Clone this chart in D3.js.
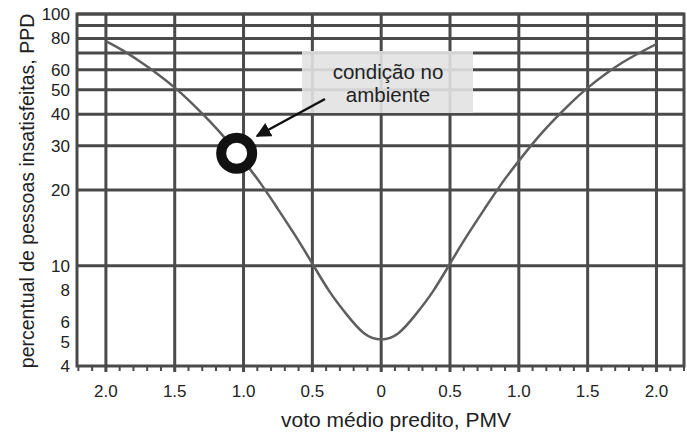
<!DOCTYPE html>
<html>
<head>
<meta charset="utf-8">
<script src="https://cdn.jsdelivr.net/npm/d3@7"></script>
<style>
  body { margin: 0; background: #fff; }
  text { font-family: "Liberation Sans", Arial, sans-serif; fill: #222; }
</style>
</head>
<body>
<svg id="chart" width="687" height="432"></svg>
<script>
// PMV vs PPD curve
const pmv = [-2.0, -1.875, -1.75, -1.625, -1.5, -1.375, -1.25, -1.125, -1.0, -0.875, -0.75, -0.625, -0.5, -0.375, -0.25, -0.125, 0,
             0.125, 0.25, 0.375, 0.5, 0.625, 0.75, 0.875, 1.0, 1.125, 1.25, 1.375, 1.5, 1.625, 1.75, 1.875, 2.0];
const ppd = [78, 71.5, 64.6, 57.8, 51, 44.2, 37.7, 31.7, 26.1, 21.2, 16.8, 13.2, 10.2, 7.9, 6.4, 5.4, 5.1,
             5.4, 6.4, 7.9, 10.2, 13.2, 16.8, 21.2, 26.1, 31.7, 37.7, 44.2, 50.9, 57.5, 64, 70, 76];

const xTicks = [-2, -1.5, -1, -0.5, 0, 0.5, 1, 1.5, 2];
const xTickLabels = ["2.0", "1.5", "1.0", "0.5", "0", "0.5", "1.0", "1.5", "2.0"];
const yGrid = [10, 20, 30, 40, 50, 60, 70, 80, 90, 100];
const yTickLabels = [4, 5, 6, 8, 10, 20, 30, 40, 50, 60, 80, 100];

const marker = { pmv: -1.05, ppd: 28 };
const noteLines = ["condição no", "ambiente"];

const svg = d3.select('#chart');
const plotL = 77, plotR = 684, plotT = 14, plotB = 366;

const x = d3.scaleLinear().domain([-2.21, 2.2]).range([plotL, plotR]);
const y = d3.scaleLog().domain([4, 100]).range([plotB, plotT]);

const gridColor = '#4a4a4a';

// minor ticks below the x axis every 0.1
const minor = d3.range(-22, 23).map(i => i / 10);
svg.append('g')
    .selectAll('line')
    .data(minor)
    .enter().append('line')
    .attr('x1', d => x(d)).attr('x2', d => x(d))
    .attr('y1', plotB).attr('y2', plotB + 5)
    .attr('stroke', gridColor)
    .attr('stroke-width', 2);

// horizontal grid
svg.append('g')
    .selectAll('line')
    .data(yGrid)
    .enter().append('line')
    .attr('x1', plotL).attr('x2', plotR)
    .attr('y1', d => y(d)).attr('y2', d => y(d))
    .attr('stroke', gridColor)
    .attr('stroke-width', 3);

// vertical grid
svg.append('g')
    .selectAll('line')
    .data(xTicks)
    .enter().append('line')
    .attr('x1', d => x(d)).attr('x2', d => x(d))
    .attr('y1', plotT).attr('y2', plotB + 6)
    .attr('stroke', gridColor)
    .attr('stroke-width', 3);

// frame
svg.append('rect')
    .attr('x', plotL).attr('y', plotT)
    .attr('width', plotR - plotL).attr('height', plotB - plotT)
    .attr('fill', 'none')
    .attr('stroke', gridColor)
    .attr('stroke-width', 3);

// annotation box
svg.append('rect')
    .attr('x', 302).attr('y', 51)
    .attr('width', 171).attr('height', 62)
    .attr('fill', '#e2e2e2')
    .attr('opacity', 0.9);

svg.append('g')
    .selectAll('text')
    .data(noteLines)
    .enter().append('text')
    .attr('x', 388)
    .attr('y', (d, i) => 79 + i * 23)
    .attr('text-anchor', 'middle')
    .style('font-size', '20.5px')
    .text(d => d);

// curve
const line = d3.line()
    .x((d, i) => x(pmv[i]))
    .y(d => y(d))
    .curve(d3.curveNatural);

svg.append('path')
    .datum(ppd)
    .attr('d', line)
    .attr('fill', 'none')
    .attr('stroke', '#5e5e5e')
    .attr('stroke-width', 2.5);

// arrow
svg.append('defs').append('marker')
    .attr('id', 'arrow')
    .attr('viewBox', '0 0 10 10')
    .attr('refX', 9).attr('refY', 5)
    .attr('markerWidth', 6).attr('markerHeight', 6)
    .attr('markerUnits', 'strokeWidth')
    .attr('orient', 'auto')
    .append('path')
    .attr('d', 'M0,0 L10,5 L0,10 Z')
    .attr('fill', '#111');

svg.append('line')
    .attr('x1', 325).attr('y1', 99)
    .attr('x2', 257).attr('y2', 136)
    .attr('stroke', '#111')
    .attr('stroke-width', 2.5)
    .attr('marker-end', 'url(#arrow)');

// marker circle
svg.append('circle')
    .attr('cx', x(marker.pmv))
    .attr('cy', y(marker.ppd))
    .attr('r', 15.5)
    .attr('fill', '#fff')
    .attr('stroke', '#111')
    .attr('stroke-width', 10);

// x tick labels
svg.append('g')
    .selectAll('text')
    .data(xTicks)
    .enter().append('text')
    .attr('x', d => x(d))
    .attr('y', 397)
    .attr('text-anchor', 'middle')
    .style('font-size', '17px')
    .text((d, i) => xTickLabels[i]);

// y tick labels
svg.append('g')
    .selectAll('text')
    .data(yTickLabels)
    .enter().append('text')
    .attr('x', 70)
    .attr('y', d => y(d))
    .attr('dy', '0.35em')
    .attr('text-anchor', 'end')
    .style('font-size', '17px')
    .text(d => d);

// axis titles
svg.append('text')
    .attr('x', 396).attr('y', 427)
    .attr('text-anchor', 'middle')
    .style('font-size', '21px')
    .text('voto médio predito, PMV');

svg.append('text')
    .attr('transform', 'translate(34,191) rotate(-90)')
    .attr('text-anchor', 'middle')
    .style('font-size', '19.5px')
    .text('percentual de pessoas insatisfeitas, PPD');
</script>
</body>
</html>
